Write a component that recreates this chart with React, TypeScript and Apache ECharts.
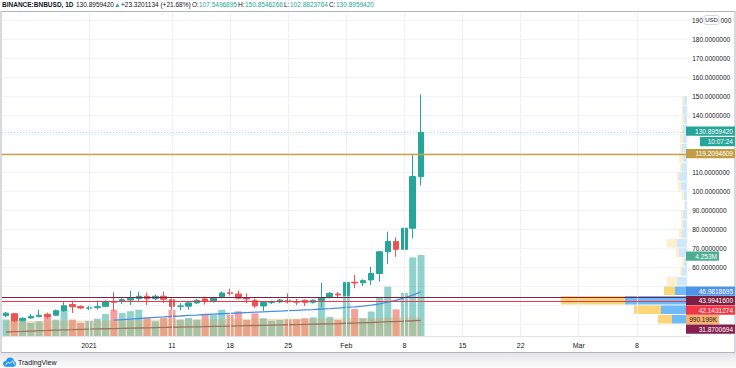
import React, { useEffect, useRef } from "react";
import * as echarts from "echarts";

// ---------- DATA ----------
const START = Date.UTC(2020, 11, 22);
const DAY = 86400000;
const N_DAYS = 83; // Dec 22 2020 .. Mar 14 2021
const categories: string[] = Array.from({ length: N_DAYS }, (_, i) => {
  const d = new Date(START + i * DAY);
  return `${d.getUTCFullYear()}-${String(d.getUTCMonth() + 1).padStart(2, "0")}-${String(d.getUTCDate()).padStart(2, "0")}`;
});

const tickLabels: Record<string, string> = {
  "2021-01-01": "2021",
  "2021-01-11": "11",
  "2021-01-18": "18",
  "2021-01-25": "25",
  "2021-02-01": "Feb",
  "2021-02-08": "8",
  "2021-02-15": "15",
  "2021-02-22": "22",
  "2021-03-01": "Mar",
  "2021-03-08": "8",
};

// price levels whose axis labels are hidden behind the price tags
const hiddenPriceTicks = [20, 30, 40, 50, 120, 130, 190, 200];
const topTickText = ["190", "000"];

const opens = [34.4, 35.3, 31.7, 33.2, 34.0, 35.1, 34.6, 37.0, 40.2, 39.2, 38.3, 38.6, 39.3, 41.9, 41.9, 42.6, 43.3, 44.6, 43.3, 44.6, 42.8, 39.3, 39.4, 41.1, 43.2, 41.9, 44.4, 46.5, 45.8, 43.8, 42.3, 39.5, 41.3, 41.6, 42.3, 41.8, 42.5, 41.4, 42.4, 44.4, 45.8, 45.0, 52.0, 51.7, 53.2, 56.6, 68.0, 73.4, 69.3, 80.4, 107.5496895];
const closes = [35.7, 31.7, 33.0, 34.0, 34.6, 33.9, 37.0, 39.6, 39.1, 38.4, 38.5, 39.1, 41.9, 41.4, 42.8, 43.6, 44.6, 43.3, 44.6, 43.0, 39.3, 39.5, 41.1, 42.5, 41.9, 43.7, 46.3, 46.1, 43.6, 43.2, 39.5, 41.3, 41.4, 42.6, 41.7, 41.5, 41.4, 42.5, 43.8, 46.1, 45.3, 51.7, 51.6, 52.8, 56.6, 68.0, 73.4, 69.3, 80.4, 107.5758286, 130.895942];
const lows = [33.5, 31.0, 31.2, 32.6, 33.5, 32.8, 34.2, 36.5, 35.8, 37.8, 37.3, 37.6, 38.8, 36.5, 40.5, 40.0, 41.5, 40.0, 42.5, 41.0, 37.5, 37.2, 37.5, 40.5, 40.3, 41.2, 43.5, 45.0, 43.0, 40.9, 38.5, 36.9, 40.5, 41.0, 40.8, 40.0, 39.5, 40.8, 38.8, 43.5, 44.0, 44.5, 48.8, 50.0, 50.5, 52.3, 61.6, 65.4, 63.0, 75.1, 102.8823764];
const highs = [36.4, 35.9, 33.6, 35.3, 37.5, 36.0, 37.6, 41.9, 42.3, 39.8, 39.6, 42.3, 42.5, 46.8, 44.0, 47.5, 47.0, 46.5, 45.5, 47.0, 43.5, 41.0, 41.8, 43.2, 44.4, 44.3, 47.2, 48.6, 47.7, 46.1, 43.4, 42.0, 42.4, 43.2, 46.1, 43.2, 42.9, 43.0, 51.7, 46.9, 46.7, 54.9, 55.8, 53.5, 60.1, 68.5, 78.6, 75.6, 90.0, 119.2094609, 150.8546266];

// volume in millions
const volumes = [0.86, 1.21, 0.77, 0.68, 0.77, 1.12, 0.86, 1.38, 0.86, 0.68, 0.80, 0.91, 1.16, 1.38, 1.21, 1.30, 1.38, 0.95, 0.77, 0.95, 1.38, 0.86, 0.95, 0.86, 1.12, 1.12, 1.38, 1.12, 1.30, 0.84, 1.19, 0.93, 0.80, 0.84, 0.88, 0.88, 0.93, 0.98, 1.84, 1.00, 0.84, 2.85, 1.42, 0.93, 1.28, 2.06, 2.59, 1.40, 2.27, 4.13, 4.253];
const volumeMA = [0.80, 0.81, 0.80, 0.79, 0.79, 0.80, 0.80, 0.81, 0.81, 0.80, 0.80, 0.81, 0.82, 0.83, 0.84, 0.85, 0.86, 0.86, 0.86, 0.86, 0.87, 0.87, 0.87, 0.87, 0.88, 0.88, 0.89, 0.89, 0.90, 0.90, 0.90, 0.90, 0.90, 0.90, 0.90, 0.90, 0.90, 0.91, 0.92, 0.92, 0.92, 0.93, 0.94, 0.94, 0.95, 0.96, 0.97, 0.97, 0.98, 0.99, 0.990199];

const blueMA = [null, null, null, null, null, null, null, null, null, null, null, null, null,
  32.0, 32.3, 32.6, 32.9, 33.2, 33.5, 33.7, 34.0, 34.2, 34.5, 34.7, 35.0, 35.2, 35.4, 35.6, 35.8, 36.0, 36.2, 36.4, 36.6, 36.8, 37.0, 37.2, 37.4, 37.6, 37.9, 38.1, 38.4,
  38.7, 39.0, 39.4, 39.9, 40.6, 41.5, 42.5, 43.7, 45.2, 46.9818695];
const brownMA = [25.8, 26.0, 26.1, 26.3, 26.5, 26.6, 26.8, 26.9, 27.0, 27.2,
  27.3, 27.4, 27.5, 27.6, 27.7, 27.8, 27.9, 28.0, 28.1, 28.2, 28.3, 28.4, 28.5, 28.5, 28.6, 28.7, 28.8, 28.9, 29.0, 29.1, 29.2, 29.3, 29.4, 29.5, 29.6, 29.7, 29.8, 29.9, 30.0, 30.1, 30.2,
  30.4, 30.5, 30.7, 30.8, 31.0, 31.2, 31.3, 31.5, 31.7, 31.8700694];

const levelGold = 119.2094609;
const levelMaroon = 43.99416;
const levelRed = 42.1431274;

// volume profile rows: price low, up volume, down volume, in value area
const profileLow = [30, 35, 40, 45, 50, 55, 60, 65, 70, 75, 80, 85, 90, 95, 100, 105, 110, 115, 120, 125, 130, 135, 140, 145];
const profileUp = [1.5, 2.6, 6.2, 1.2, 1.0, 0.5, 0.3, 0.8, 1.0, 0.5, 0.4, 0.4, 0.2, 0.3, 0.6, 0.8, 0.5, 0.4, 0.5, 0.4, 0.4, 0.3, 0.4, 0.3];
const profileDown = [1.4, 2.7, 6.4, 1.1, 1.0, 0.2, 0.2, 0.3, 1.0, 0.3, 0.2, 0.2, 0.1, 0.2, 0.3, 0.2, 0.2, 0.4, 0.2, 0.3, 0.2, 0.2, 0.1, 0.2];
const profileInValueArea = [1, 1, 1, 1, 0, 0, 0, 0, 0, 0, 0, 0, 0, 0, 0, 0, 0, 0, 0, 0, 0, 0, 0, 0];

const countdown = "10:07:24";

// ---------- LOGO ----------
echarts.graphic.registerShape(
  "tvcloud",
  echarts.graphic.extendPath(
    "M5 14 C2 14 0 12 0 9.5 C0 7 2 5.2 4.3 5.2 C5 2.2 7.6 0 10.7 0 C14.2 0 17 2.7 17.2 6.2 C19 6.6 20 8.2 20 10 C20 12.2 18.3 14 16 14 Z",
    {}
  )
);

const UP = "#26a69a";
const DOWN = "#ef5350";
const FONT = "Liberation Sans";

function fmtVol(v: number) {
  return v >= 1 ? `${v.toFixed(3)}M` : `${(v * 1000).toFixed(3)}K`;
}

export default function App() {
  const ref = useRef<HTMLDivElement>(null);
  useEffect(() => {
    const el = ref.current!;
    const chart = echarts.init(el, null, { renderer: "svg" });
    const n = closes.length;
    const last = n - 1;
    const change = closes[last] - closes[last - 1];
    const pct = (change / closes[last - 1]) * 100;

    const candleData = opens.map((o, i) => [o, closes[i], lows[i], highs[i]]);
    const volData = volumes.map((v, i) => ({
      value: v,
      itemStyle: { color: closes[i] >= opens[i] ? "rgba(38,166,154,0.5)" : "rgba(239,83,80,0.55)" },
    }));
    const profileData = profileLow.map((lo, i) => [lo, lo + 5, profileUp[i], profileDown[i], profileInValueArea[i]]);

    const labelBoxes = [
      { text: closes[last].toFixed(7), bg: "#26a69a", y: 126.5, x: 686, w: 49, fg: "#fff" },
      { text: countdown, bg: "#26a69a", y: 137, x: 700, w: 35, fg: "#fff" },
      { text: levelGold.toFixed(7), bg: "#c39d45", y: 149, x: 686, w: 49, fg: "#fff" },
      { text: fmtVol(volumes[last]), bg: "#4cae90", y: 251.5, x: 686, w: 33, fg: "#fff" },
      { text: (blueMA[last] as number).toFixed(7), bg: "#4f93e8", y: 286.5, x: 686, w: 49, fg: "#fff" },
      { text: levelMaroon.toFixed(7), bg: "#7e1e43", y: 296, x: 686, w: 49, fg: "#fff" },
      { text: levelRed.toFixed(7), bg: "#f23645", y: 305.5, x: 686, w: 49, fg: "#fff" },
      { text: fmtVol(volumeMA[last]), bg: "#f7b26e", y: 315, x: 686, w: 33, fg: "#131722" },
      { text: brownMA[last].toFixed(7), bg: "#861f4e", y: 324.5, x: 686, w: 49, fg: "#fff" },
    ];

    const headerParts: { t: string; x: number; c: string; b?: boolean }[] = [
      { t: "BINANCE:BNBUSD, 1D", x: 2, c: "#131722", b: true },
      { t: closes[last].toFixed(7), x: 76, c: "#131722" },
      { t: "▲", x: 114, c: UP },
      { t: `+${change.toFixed(7)} (+${pct.toFixed(2)}%)`, x: 121, c: "#131722" },
      { t: "O:", x: 192, c: "#131722" },
      { t: opens[last].toFixed(7), x: 199, c: UP },
      { t: "H:", x: 238, c: "#131722" },
      { t: highs[last].toFixed(7), x: 245, c: UP },
      { t: "L:", x: 284, c: "#131722" },
      { t: lows[last].toFixed(7), x: 290, c: UP },
      { t: "C:", x: 329, c: "#131722" },
      { t: closes[last].toFixed(7), x: 336, c: UP },
    ];

    const graphics: any[] = [
      // frame
      { type: "rect", shape: { x: 1, y: 11.5, width: 734, height: 341 }, style: { fill: "none", stroke: "#b2b5be", lineWidth: 1 }, z: 100 },
      // bottom shade
      {
        type: "rect",
        shape: { x: 0, y: 353, width: 736, height: 15 },
        style: {
          fill: new echarts.graphic.LinearGradient(0, 0, 0, 1, [
            { offset: 0, color: "rgba(0,0,0,0.10)" },
            { offset: 1, color: "rgba(0,0,0,0.01)" },
          ]),
        },
        z: 100,
      },
      { type: "tvcloud", x: 3, y: 357.5, scaleX: 0.66, scaleY: 0.66, style: { fill: "#2196f3" }, z: 101 },
      { type: "polyline", shape: { points: [[5.5, 365], [8, 362], [9.8, 363.6], [12.5, 360.8], [15, 365]] }, style: { stroke: "#fff", lineWidth: 1, fill: "none" }, z: 102 },
      { type: "text", x: 18, y: 362, style: { text: "TradingView", fontSize: 7, fill: "#131722", fontFamily: FONT, verticalAlign: "middle" }, z: 101 },
      // top tick with USD badge: "190 USD 000"
      { type: "text", x: 692, y: 20.2, style: { text: topTickText[0], fontSize: 6.5, fill: "#131722", fontFamily: FONT, verticalAlign: "middle" }, z: 100 },
      { type: "rect", shape: { x: 704, y: 15.5, width: 15, height: 9, r: 2 }, style: { fill: "#fff", stroke: "#c9ccd3", lineWidth: 0.8 }, z: 100 },
      { type: "text", x: 711.5, y: 20.2, style: { text: "USD", fontSize: 6, fill: "#131722", fontFamily: FONT, align: "center", verticalAlign: "middle" }, z: 101 },
      { type: "text", x: 720.5, y: 20.2, style: { text: topTickText[1], fontSize: 6.5, fill: "#131722", fontFamily: FONT, verticalAlign: "middle" }, z: 100 },
    ];
    headerParts.forEach((p) => {
      graphics.push({
        type: "text",
        x: p.x,
        y: 4.5,
        style: { text: p.t, fontSize: 6.5, fontWeight: p.b ? "bold" : "normal", fill: p.c, fontFamily: FONT, verticalAlign: "middle" },
        z: 100,
      });
    });
    labelBoxes.forEach((b) => {
      graphics.push({ type: "rect", shape: { x: b.x, y: b.y, width: b.w, height: 9.3 }, style: { fill: b.bg }, z: 100 });
      graphics.push({
        type: "text",
        x: b.x + b.w - 2,
        y: b.y + 4.8,
        style: { text: b.text, fontSize: 6.5, fill: b.fg, fontFamily: FONT, align: "right", verticalAlign: "middle" },
        z: 101,
      });
    });

    const gridBase = { outerBoundsMode: "none" as any };

    const option: any = {
      animation: false,
      backgroundColor: "#ffffff",
      textStyle: { fontFamily: FONT },
      grid: [
        { ...gridBase, left: 1.8, right: 45.2, top: 1, bottom: 25 },
        { ...gridBase, left: 1.8, right: 45.2, top: 11.5, bottom: 32 },
        { ...gridBase, left: 0, right: 49, top: 1, bottom: 25 },
      ],
      xAxis: [
        { type: "category", gridIndex: 0, data: categories, boundaryGap: true, show: false },
        {
          type: "category",
          gridIndex: 1,
          data: categories,
          boundaryGap: true,
          axisLine: { show: true, lineStyle: { color: "#e0e3eb" } },
          axisTick: { show: false },
          splitLine: { show: false },
          axisLabel: {
            interval: (_i: number, v: string) => !!tickLabels[v],
            formatter: (v: string) => tickLabels[v] || "",
            fontSize: 7,
            color: "#131722",
            margin: 6,
            hideOverlap: false,
          },
        },
        { type: "value", gridIndex: 2, min: 0, max: 68.7, inverse: true, show: false },
      ],
      yAxis: [
        {
          type: "value",
          gridIndex: 0,
          position: "right",
          min: 20,
          max: 200,
          interval: 10,
          axisLine: { show: false },
          axisTick: { show: false },
          axisLabel: {
            fontSize: 6.5,
            color: "#131722",
            margin: 1.4,
            align: "left",
            formatter: (v: number) => (hiddenPriceTicks.includes(Math.round(v)) ? "" : v.toFixed(7)),
          },
          splitLine: { show: true, showMinLine: false, showMaxLine: false, lineStyle: { color: "#f0f3fa", width: 1 } },
        },
        { type: "value", gridIndex: 1, min: 0, max: 17.04, show: false },
        { type: "value", gridIndex: 2, min: 20, max: 200, show: false },
      ],
      graphic: graphics,
      series: [
        {
          name: "vgrid",
          type: "line",
          xAxisIndex: 1,
          yAxisIndex: 1,
          data: [],
          z: 0,
          silent: true,
          markLine: {
            silent: true,
            symbol: "none",
            label: { show: false },
            lineStyle: { color: "#eef0f5", width: 1, type: "solid" },
            data: Object.keys(tickLabels).map((d) => ({ xAxis: d })),
          },
        },
        {
          name: "profile",
          type: "custom",
          xAxisIndex: 2,
          yAxisIndex: 2,
          z: 1,
          silent: true,
          data: profileData,
          renderItem: (_params: any, api: any) => {
            const lo = api.value(0), hi = api.value(1), up = api.value(2), dn = api.value(3), va = api.value(4);
            const a = api.coord([0, hi]);
            const b = api.coord([up, lo]);
            const c = api.coord([up + dn, lo]);
            const top = a[1] + 0.5;
            const h = b[1] - a[1] - 1;
            return {
              type: "group",
              children: [
                { type: "rect", shape: { x: b[0], y: top, width: a[0] - b[0], height: h }, style: { fill: va ? "rgba(33,150,243,0.65)" : "rgba(33,150,243,0.22)" } },
                { type: "rect", shape: { x: c[0], y: top, width: b[0] - c[0], height: h }, style: { fill: va ? "rgba(251,192,45,0.65)" : "rgba(251,192,45,0.25)" } },
              ],
            };
          },
        },
        {
          name: "volume",
          type: "bar",
          xAxisIndex: 1,
          yAxisIndex: 1,
          data: volData,
          barWidth: 7,
          z: 1,
        },
        {
          name: "volMA",
          type: "line",
          xAxisIndex: 1,
          yAxisIndex: 1,
          data: volumeMA,
          symbol: "none",
          lineStyle: { width: 0 },
          areaStyle: { color: "rgba(205,165,95,0.5)" },
          z: 2,
        },
        {
          name: "MA brown",
          type: "line",
          xAxisIndex: 0,
          yAxisIndex: 0,
          data: brownMA,
          symbol: "none",
          lineStyle: { width: 1.3, color: "#9b7560" },
          z: 3,
        },
        {
          name: "MA blue",
          type: "line",
          xAxisIndex: 0,
          yAxisIndex: 0,
          data: blueMA,
          symbol: "none",
          lineStyle: { width: 1.3, color: "#4a8fe7" },
          z: 3,
        },
        {
          name: "BNBUSD",
          type: "candlestick",
          xAxisIndex: 0,
          yAxisIndex: 0,
          data: candleData,
          barWidth: 6,
          z: 4,
          itemStyle: { color: UP, color0: DOWN, borderColor: UP, borderColor0: DOWN, borderWidth: 1 },
          markLine: {
            silent: true,
            symbol: "none",
            label: { show: false },
            data: [
              { yAxis: closes[last], lineStyle: { color: "rgba(38,166,154,0.45)", type: [1, 2], width: 1 } },
              { yAxis: levelGold, lineStyle: { color: "#c9a24a", type: "solid", width: 1.4 } },
              { yAxis: levelMaroon, lineStyle: { color: "#7e1e43", type: "solid", width: 1.1 } },
              { yAxis: levelRed, lineStyle: { color: "#f23645", type: "solid", width: 1.1 } },
            ],
          },
        },
      ],
    };
    chart.setOption(option);
    return () => chart.dispose();
  }, []);
  return <div ref={ref} style={{ position: "fixed", left: 0, top: 0, width: 736, height: 368, background: "#fff" }} />;
}
